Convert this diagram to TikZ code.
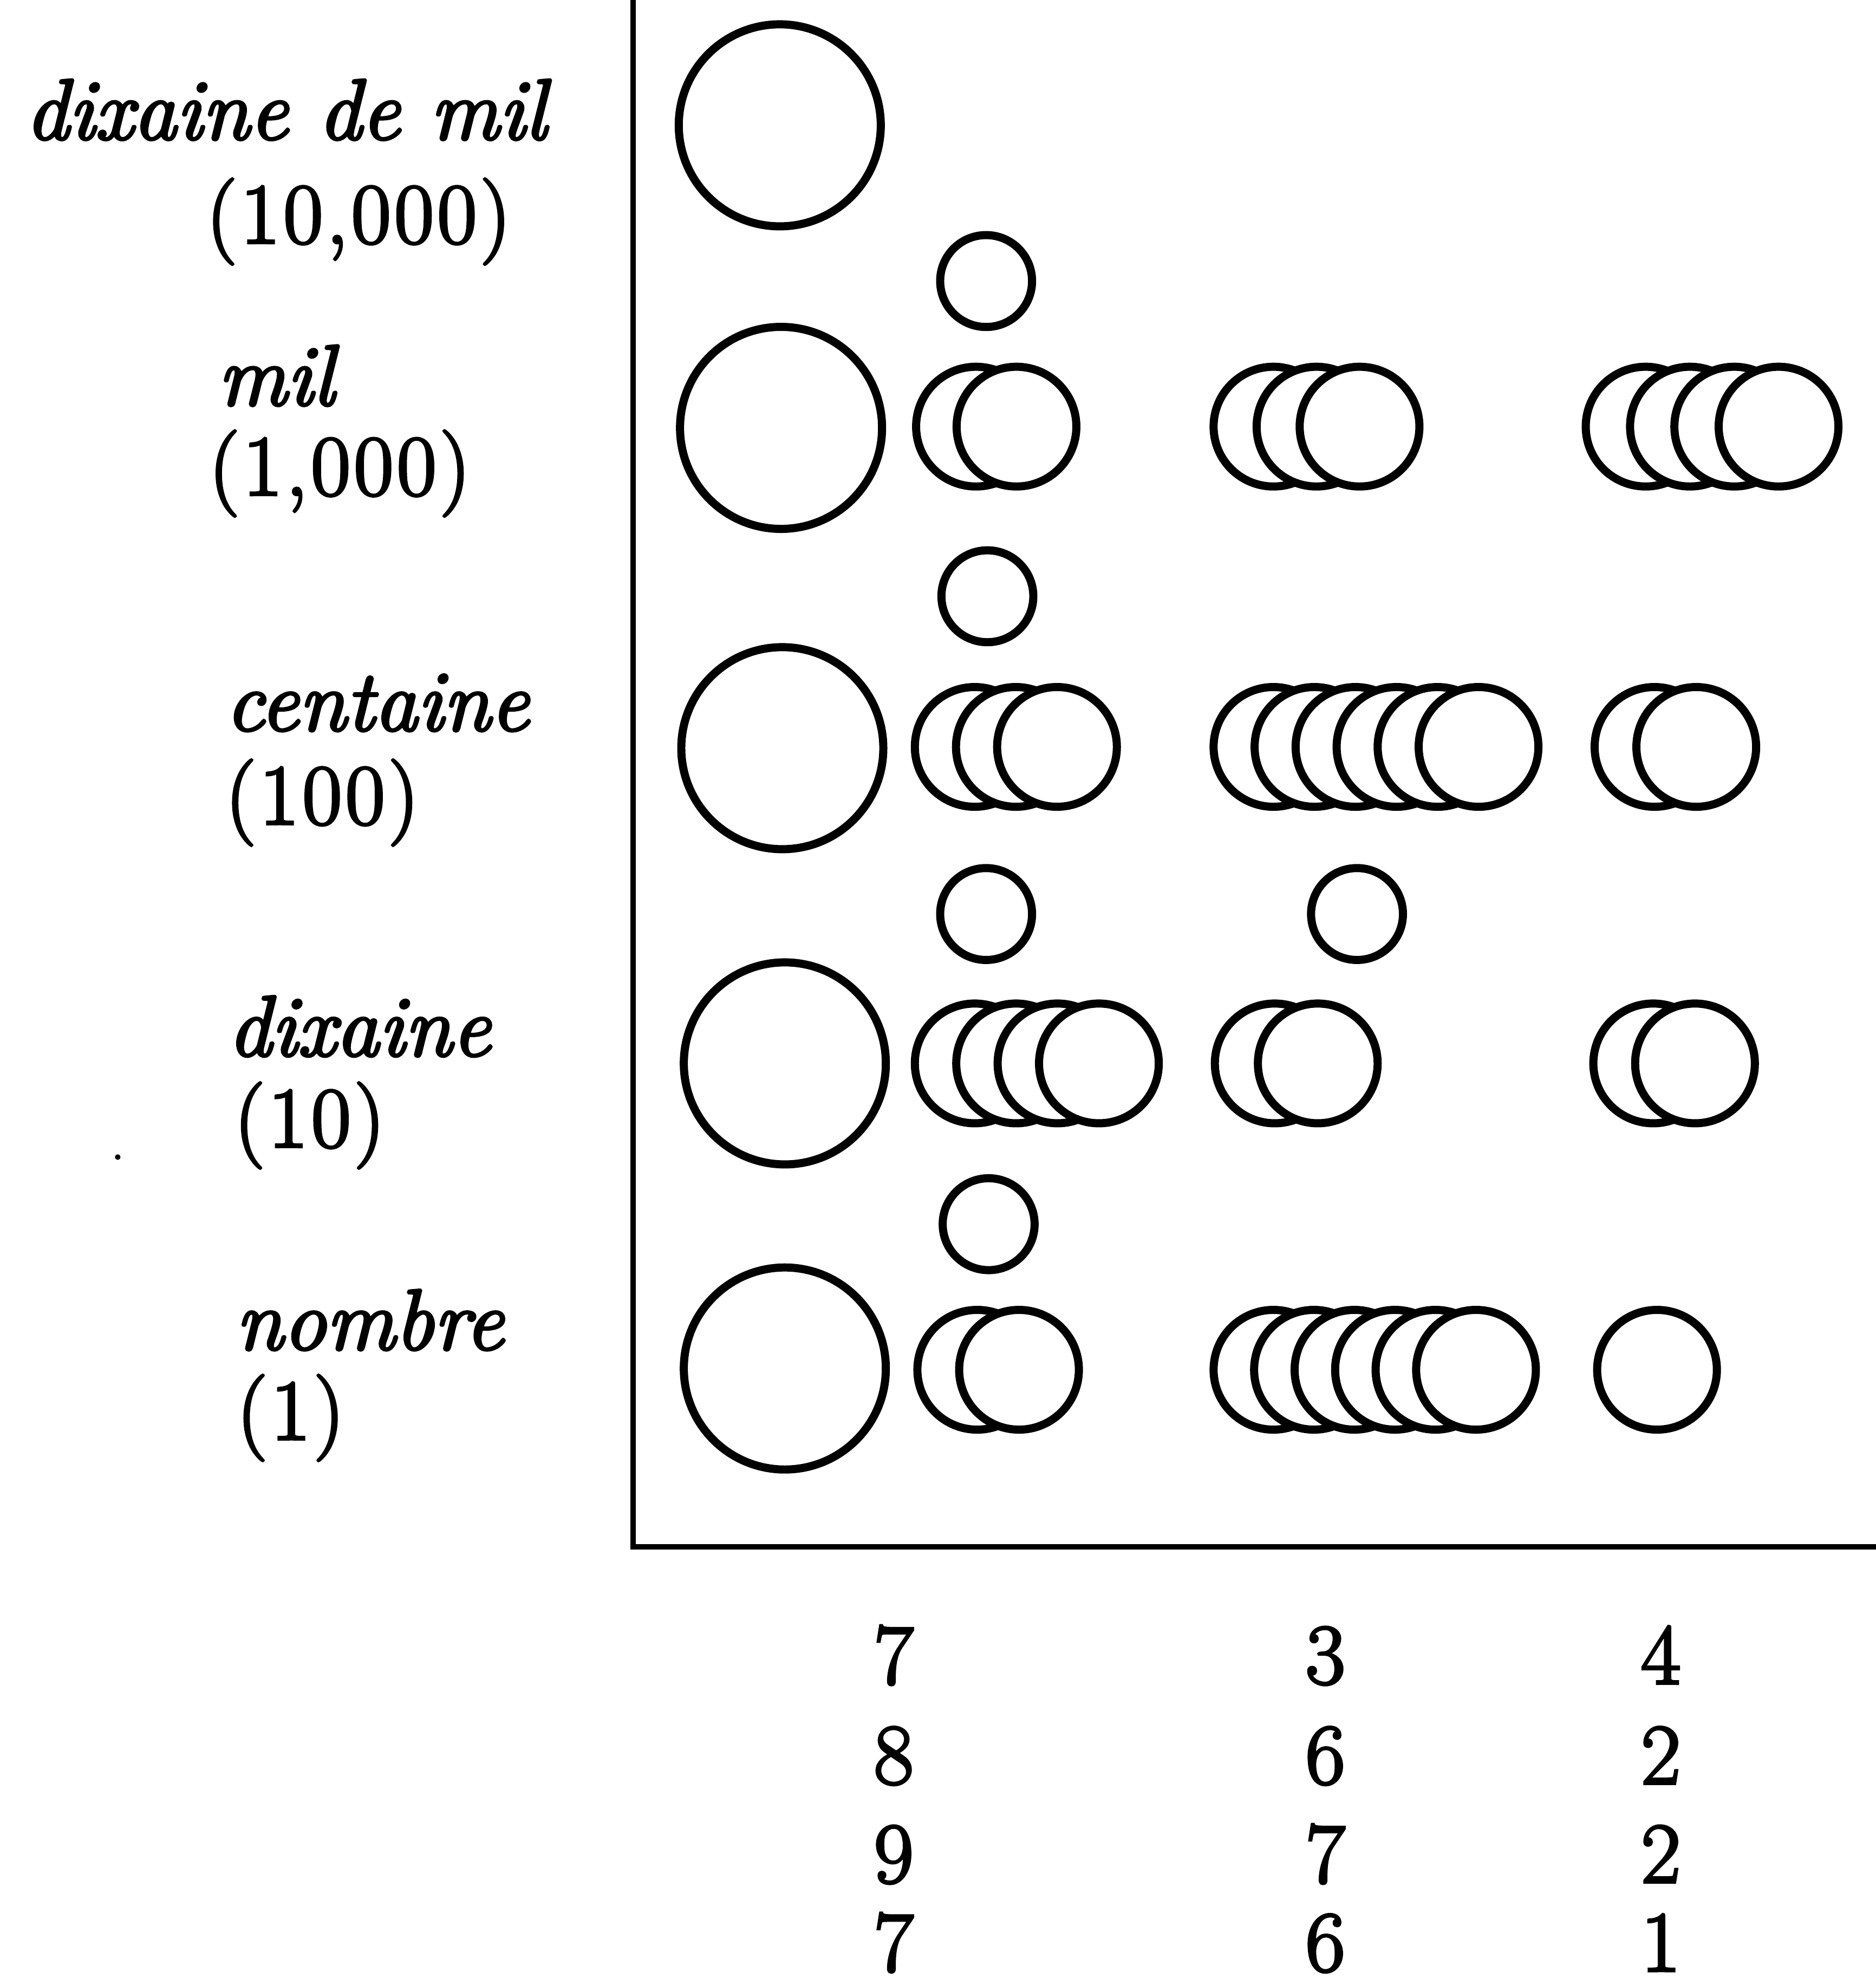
\documentclass[tikz,border=0pt]{standalone}
\usepackage{fontspec}
\newfontfamily\heavy{Latin Modern Roman}[FakeBold=3]
\begin{document}
\begin{tikzpicture}[x=1pt,y=-1pt,
  frame/.style={line width=4.3pt},
  coin/.style={draw, line width=6.4pt, fill=white},
  lbl/.style={anchor=base west, inner sep=0pt,
    font=\heavy\fontsize{68}{80}\selectfont\addfontfeatures{LetterSpace=4}},
  word/.style={anchor=base west, inner sep=0pt,
    font=\heavy\fontsize{68}{80}\selectfont\itshape},
  digit/.style={anchor=base, inner sep=0pt, font=\heavy\fontsize{68}{80}\selectfont}]
\useasboundingbox (0,0) rectangle (1482,1568);

% axes of the counting board
\coordinate (top) at (500,0);
\coordinate (corner) at (500,1222);
\coordinate (right) at (1482,1222);
\draw[frame] (top) -- (corner) -- (right);

% place-value labels
\node[word] (l0) at (20,110) {dixaine de mil};
\node[lbl]  (v0) at (163,192) {(10,000)};
\node[word] (l1) at (172,320) {mil};
\node[lbl]  (v1) at (165,391) {(1,000)};
\node[word] (l2) at (178,577) {centaine};
\node[lbl]  (v2) at (178,651) {(100)};
\node[word] (l3) at (180,834) {dixaine};
\node[lbl]  (v3) at (185,906) {(10)};
\node[word] (l4) at (186,1066) {nombre};
\node[lbl]  (v4) at (187,1137) {(1)};
\fill (93,914) circle (2.2);

% large counters in the first column
\foreach \x/\y in {616/99, 617/338, 618/591, 620/840, 620/1081}
  \draw[coin] (\x,\y) circle (79.8);

% single counters worth five
\foreach \x/\y in {779/222, 780/471, 779/722, 781/967, 1072/722}
  \draw[coin] (\x,\y) circle (36.3);

% stacks of counters: start x / row y / count / step
\foreach \sx/\sy/\n/\dx in {
    771/337/2/32, 1006/337/3/34, 1300/337/4/35,
    770/590/3/32.5, 1006/590/6/32.4, 1307/590/2/33,
    770/840/4/32.7, 1007/840/2/34, 1306/840/2/33,
    772/1082/2/33, 1006/1082/6/32, 1309/1082/1/0}
  \foreach \i in {1,...,\n}
    \draw[coin] ({\sx+(\i-1)*\dx},\sy) circle (47.3);

% column totals
\node[digit] (a1) at (706,1330) {7};
\node[digit] (a2) at (706,1409) {8};
\node[digit] (a3) at (706,1487) {9};
\node[digit] (a4) at (706,1557) {7};
\node[digit] (b1) at (1047,1330) {3};
\node[digit] (b2) at (1047,1409) {6};
\node[digit] (b3) at (1047,1487) {7};
\node[digit] (b4) at (1047,1557) {6};
\node[digit] (c1) at (1312,1330) {4};
\node[digit] (c2) at (1312,1409) {2};
\node[digit] (c3) at (1312,1487) {2};
\node[digit] (c4) at (1312,1557) {1};
\end{tikzpicture}
\end{document}
